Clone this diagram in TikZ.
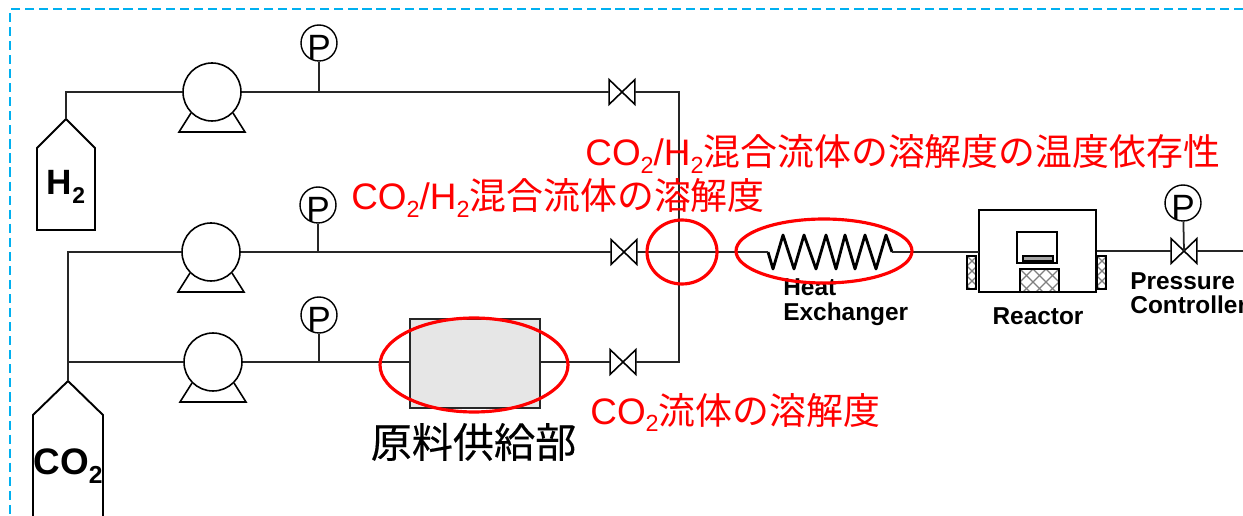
\documentclass[tikz,border=0pt]{standalone}
\usepackage{fontspec}
\setmainfont{Liberation Sans}
\newfontfamily\cjk{Noto Sans CJK JP}
\newfontfamily\cjkm[FakeBold=0.3]{Noto Sans CJK JP}
\usetikzlibrary{shapes.geometric}
\definecolor{rahmen}{HTML}{00B0F0}
\definecolor{linie}{HTML}{262626}
\definecolor{rot}{HTML}{FF0000}
\definecolor{kasten}{HTML}{E6E6E6}
\newcommand{\fs}[1]{\fontsize{#1}{#1}\selectfont}
\newcommand{\zwei}[2]{\raisebox{#2}{\fs{#1}2}}
\tikzset{
  ln/.style={linie,line width=1pt},
  pumpe/.style={circle,draw=black,line width=0.9pt,minimum size=1.16cm,inner sep=0pt},
  ventil/.style={minimum width=0.5cm,minimum height=0.48cm,inner sep=0pt},
  gauge/.style={circle,draw=black,line width=0.8pt,minimum size=0.72cm,inner sep=0pt,font=\fs{20}},
  flasche/.style={black,line width=1.1pt},
  lab/.style={font=\fs{13.9}\bfseries,align=left,inner sep=0pt,text=black},
  rottext/.style={text=rot,font=\fs{21},inner sep=0pt,anchor=west},
  ring/.style={ellipse,draw=rot,line width=1.8pt,inner sep=0pt},
  rost/.style={gray,line width=0.75pt},
}
\begin{document}
\begin{tikzpicture}[x=0.02cm,y=-0.02cm]
  \path[use as bounding box,clip] (0,0) rectangle (1243,516);
  \draw[rahmen,line width=1.1pt,dash pattern=on 5.2pt off 2.8pt] (1243,9)--(10,9)--(10,516);
  % pumps, gauges, valves
  \foreach \n/\x/\y/\gx/\gy/\vx in {1/212/92/319/43/622, 2/211/252/318/205/624, 3/213/362/319/315/623}{
    \node[pumpe] (p\n) at (\x,\y) {};
    \draw[black,line width=0.9pt] ([shift={(-21,21)}]p\n.center)--++(-12,19)--++(66,0)--++(-12,-19);
    \node[gauge] (g\n) at (\gx,\gy) {\raisebox{-2.5pt}[14pt][0pt]{P}};
    \coordinate (t\n) at (\gx,\y);
    \node[ventil] (v\n) at (\vx,\y) {};
    \draw[ln] (g\n)--(t\n);
    \draw[black,line width=0.9pt] (v\n.north west)--(v\n.south east)--(v\n.north east)--(v\n.south west)--cycle;
  }
  % cylinders
  \draw[flasche] (66,119)--(95,148)--(95,230)--(37,230)--(37,148)--cycle;
  \draw[flasche] (68,381)--(103,415)--(103,520)--(33,520)--(33,415)--cycle;
  \coordinate (h2top) at (66,119);
  \coordinate (co2top) at (68,381);
  \coordinate (h2eck) at (66,92);
  \coordinate (co2eck) at (68,252);
  \coordinate (co2ab) at (68,362);
  \coordinate (misch1) at (679,92);
  \coordinate (misch3) at (679,362);
  \node[lab,font=\fs{20}\bfseries] (h2) at (66,187) {H\zwei{13}{-4.8pt}};
  \node[lab,font=\fs{21}\bfseries] (co2) at (68,466) {CO\zwei{14}{-5pt}};
  % feed box
  \node[draw=linie,line width=0.7pt,fill=kasten,minimum width=2.6cm,minimum height=1.78cm,inner sep=0pt] (feed) at (475,363.5) {};
  % coil
  \coordinate (c0) at (768,252);
  \coordinate (c1) at (892,252);
  \draw[black,line width=1.6pt,line join=round] (c0)--(773,269)--(783,235)--(794,269)--(804,235)--(816,269)--(826,235)--(836,269)--(845,235)--(855,269)--(865,235)--(876,269)--(886,235)--(c1);
  % reactor
  \coordinate (ra) at (979,252);
  \coordinate (rb) at (1097,251);
  \foreach \x/\y/\w/\h/\s in {1020/269/39/23/13, 967/256/9/33/10, 1097/256/9/33/10}{
    \begin{scope}
      \clip (\x,\y) rectangle (\x+\w,\y+\h);
      \foreach \o in {-5,...,5}{
        \draw[rost] (\x+\o*\s,\y)--++(40,40);
        \draw[rost] (\x+\o*\s,\y)--++(-40,40);
      }
    \end{scope}
    \draw[black,line width=1.1pt] (\x,\y) rectangle (\x+\w,\y+\h);
  }
  \draw[black,line width=1.3pt] (979,292)--(979,210)--(1096,210)--(1096,292)--cycle;
  \draw[black,line width=1.2pt] (1017,232) rectangle (1057,263);
  \draw[black,line width=0.7pt,fill=gray!70] (1023,256) rectangle (1053,261);
  % outlet
  \node[ventil] (v4) at (1184,251) {};
  \draw[black,line width=0.9pt] (v4.north west)--(v4.south east)--(v4.north east)--(v4.south west)--cycle;
  \node[gauge] (g4) at (1183,203) {\raisebox{-2.5pt}[14pt][0pt]{P}};
  \coordinate (aus) at (1243,251);
  % piping
  \draw[ln] (h2top)--(h2eck)--(p1);
  \draw[ln] (p1)--(v1);
  \draw[ln] (v1)--(misch1)--(misch3)--(v3);
  \draw[ln] (co2top)--(co2ab)--(co2eck)--(p2);
  \draw[ln] (co2ab)--(p3);
  \draw[ln] (p2)--(v2);
  \draw[ln] (v2)--(c0);
  \draw[ln] (c1)--(ra);
  \draw[ln] (rb)--(v4);
  \draw[ln] (v4)--(aus);
  \draw[ln] (g4)--(v4.center);
  \draw[ln] (p3)--(feed.west |- p3);
  \draw[ln] (feed.east |- v3)--(v3);
  % labels
  \node[lab,anchor=west] (hx) at (783,302) {Heat\\Exchanger};
  \node[lab] (re) at (1038,316) {Reactor};
  \node[lab,anchor=west] (pc) at (1130,293) {Pressure\\Controller};
  \node[inner sep=0pt,text=black,font=\fs{23.4}\cjkm] (feedlab) at (473.5,442) {原料供給部};
  % red marks
  \node[ring,minimum width=3.76cm,minimum height=1.88cm] (r1) at (474,365) {};
  \node[ring,minimum width=1.4cm,minimum height=1.28cm] (r2) at (682,252) {};
  \node[ring,minimum width=3.52cm,minimum height=1.28cm] (r3) at (824,251) {};
  \node[rottext] (t1) at (585,154) {CO\zwei{13.3}{-4pt}/H\zwei{13.3}{-4pt}{\cjk 混合流体の溶解度の温度依存性}};
  \node[rottext] (t2) at (351,198) {CO\zwei{13.3}{-4pt}/H\zwei{13.3}{-4pt}{\cjk 混合流体の溶解度}};
  \node[rottext] (t3) at (590,412) {CO\zwei{13.3}{-4pt}{\cjk 流体の溶解度}};
\end{tikzpicture}
\end{document}
